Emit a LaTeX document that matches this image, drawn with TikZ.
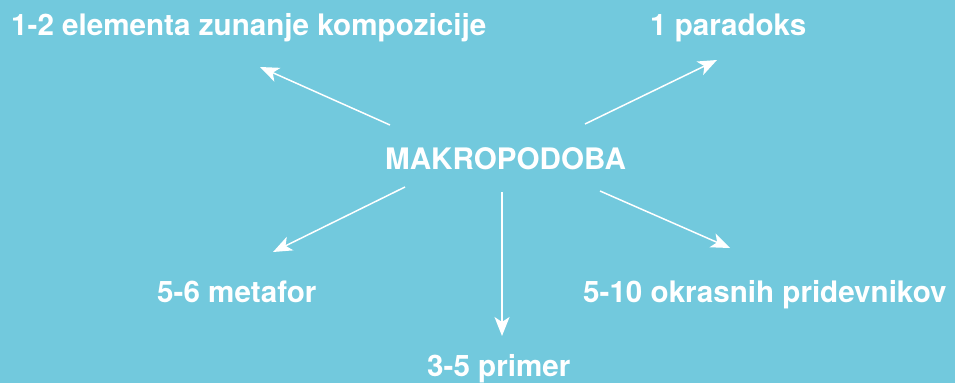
\documentclass[tikz,border=0pt]{standalone}
\usepackage{fontspec}
\setmainfont{TeX Gyre Heros}
\usetikzlibrary{arrows.meta}
\definecolor{bg}{RGB}{114,201,221}
\begin{document}
\begin{tikzpicture}[x=1pt,y=-1pt,
  lbl/.style={text=white,font=\fontsize{29.6}{32}\selectfont\bfseries,inner sep=0pt,anchor=base west},
  arr/.style={draw=white,line width=1.5pt,-{Stealth[length=19pt,width=15pt,inset=5pt]}}]
\fill[bg] (0,0) rectangle (955,383);
\useasboundingbox (0,0) rectangle (955,383);
\node[lbl] (t1) at (11,35) {1-2 elementa zunanje kompozicije};
\node[lbl] (t2) at (650,35) {1 paradoks};
\node[lbl] (c) at (385,169) {MAKROPODOBA};
\node[lbl] (t3) at (157,302) {5-6 metafor};
\node[lbl] (t4) at (583,302) {5-10 okrasnih pridevnikov};
\node[lbl] (t5) at (427,376) {3-5 primer};
\coordinate (s1) at (390,125); \coordinate (e1) at (260,67);
\coordinate (s2) at (585,124); \coordinate (e2) at (717,60);
\coordinate (s3) at (405,187); \coordinate (e3) at (273,252);
\coordinate (s4) at (600,191); \coordinate (e4) at (730,248);
\coordinate (s5) at (502,192); \coordinate (e5) at (502,336);
\draw[arr] (s1) -- (e1);
\draw[arr] (s2) -- (e2);
\draw[arr] (s3) -- (e3);
\draw[arr] (s4) -- (e4);
\draw[arr] (s5) -- (e5);
\end{tikzpicture}
\end{document}
